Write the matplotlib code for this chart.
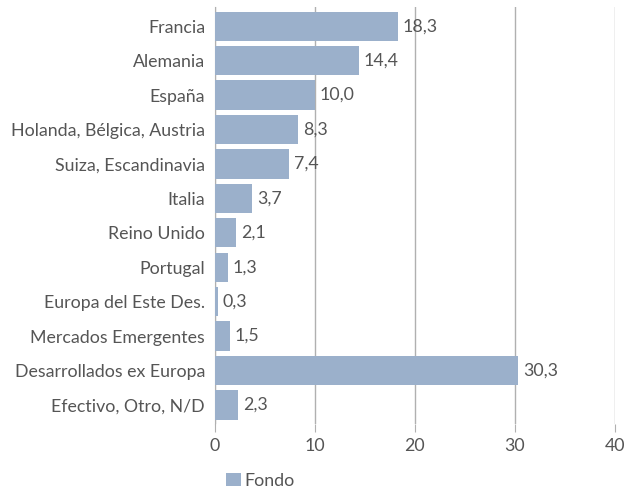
import matplotlib.pyplot as plt

plt.rcParams['font.family'] = ['Lato', 'DejaVu Sans']

categorias = ["Francia", "Alemania", "España", "Holanda, Bélgica, Austria",
              "Suiza, Escandinavia", "Italia", "Reino Unido", "Portugal",
              "Europa del Este Des.", "Mercados Emergentes",
              "Desarrollados ex Europa", "Efectivo, Otro, N/D"]
fondo = [18.3, 14.4, 10.0, 8.3, 7.4, 3.7, 2.1, 1.3, 0.3, 1.5, 30.3, 2.3]

color_barra = "#9bb0cb"
gris = "#555555"
gris_linea = "#b0b0b0"
fs = 12.8

fig = plt.figure(figsize=(6.28, 4.9), dpi=100)
ax = fig.add_axes([0.342, 0.135, 0.637, 0.85])

y = range(len(categorias))
bars = ax.barh(y, fondo, height=0.85, color=color_barra, label="Fondo", zorder=3)
ax.set_ylim(len(categorias) - 0.45, -0.55)
ax.set_xlim(0, 40)

for b, v in zip(bars, fondo):
    ax.text(b.get_width() + 0.5, b.get_y() + b.get_height() / 2,
            ("%.1f" % v).replace(".", ","), va="center", ha="left",
            fontsize=fs, color=gris, zorder=4)

ax.set_yticks(list(y))
ax.set_yticklabels(categorias, fontsize=fs, color=gris)
ax.set_xticks([0, 10, 20, 30, 40])
ax.tick_params(axis="y", length=0, pad=7)
ax.tick_params(axis="x", length=6, color=gris_linea, labelsize=fs, labelcolor=gris, pad=4)
ax.grid(axis="x", color=gris_linea, lw=1, zorder=0)
for s in ["top", "right", "bottom"]:
    ax.spines[s].set_visible(False)
ax.spines["left"].set_color(gris_linea)

leg = fig.legend(loc="lower left", bbox_to_anchor=(0.335, -0.03), frameon=False,
                 fontsize=fs, handlelength=0.8, handleheight=0.8, handletextpad=0.2)
for t in leg.get_texts():
    t.set_color(gris)

fig.savefig("out.png", dpi=100)
